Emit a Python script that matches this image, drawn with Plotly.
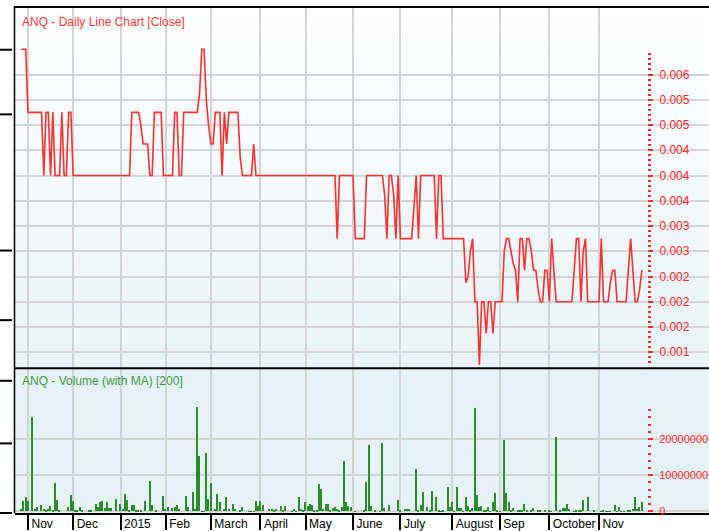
import numpy as np
import pandas as pd
import plotly.graph_objects as go

# ---------------- data ----------------
# ASX trading calendar covered by the chart (29 Oct 2014 - 27 Nov 2015)
holidays = ["2014-12-25", "2014-12-26", "2015-01-01", "2015-01-26",
            "2015-04-03", "2015-04-06", "2015-06-08"]
trading_days = pd.bdate_range("2014-10-29", "2015-11-27", freq="C", holidays=holidays)

# Daily close (one value per trading day)
close = [
    0.006, 0.006, 0.006, 0.005, 0.005, 0.005, 0.005, 0.005, 0.005, 0.005,
    0.004, 0.005, 0.005, 0.004, 0.005, 0.004, 0.004, 0.004, 0.005, 0.004,
    0.004, 0.005, 0.005, 0.004, 0.004, 0.004, 0.004, 0.004, 0.004, 0.004,
    0.004, 0.004, 0.004, 0.004, 0.004, 0.004, 0.004, 0.004, 0.004, 0.004,
    0.004, 0.004, 0.004, 0.004, 0.004, 0.004, 0.004, 0.004, 0.004, 0.005,
    0.005, 0.005, 0.005, 0.0048, 0.0045, 0.0045, 0.0045, 0.004, 0.004, 0.005,
    0.005, 0.005, 0.005, 0.004, 0.004, 0.004, 0.004, 0.004, 0.005, 0.005,
    0.004, 0.004, 0.005, 0.005, 0.005, 0.005, 0.005, 0.005, 0.005, 0.0053,
    0.006, 0.006, 0.0052, 0.0048, 0.0045, 0.0045, 0.005, 0.005, 0.005, 0.004,
    0.005, 0.0045, 0.005, 0.005, 0.005, 0.005, 0.005, 0.0043, 0.004, 0.004,
    0.004, 0.004, 0.004, 0.0045, 0.004, 0.004, 0.004, 0.004, 0.004, 0.004,
    0.004, 0.004, 0.004, 0.004, 0.004, 0.004, 0.004, 0.004, 0.004, 0.004,
    0.004, 0.004, 0.004, 0.004, 0.004, 0.004, 0.004, 0.004, 0.004, 0.004,
    0.004, 0.004, 0.004, 0.004, 0.004, 0.004, 0.004, 0.004, 0.004, 0.004,
    0.003, 0.004, 0.004, 0.004, 0.004, 0.004, 0.004, 0.004, 0.003, 0.003,
    0.003, 0.003, 0.003, 0.004, 0.004, 0.004, 0.004, 0.004, 0.004, 0.004,
    0.004, 0.0037, 0.003, 0.004, 0.004, 0.0037, 0.003, 0.004, 0.003, 0.003,
    0.003, 0.003, 0.003, 0.003, 0.0035, 0.004, 0.003, 0.004, 0.004, 0.004,
    0.004, 0.004, 0.004, 0.004, 0.003, 0.004, 0.004, 0.003, 0.003, 0.003,
    0.003, 0.003, 0.003, 0.003, 0.003, 0.003, 0.003, 0.0023, 0.0024, 0.0028,
    0.003, 0.002, 0.002, 0.001, 0.002, 0.002, 0.0015, 0.002, 0.002, 0.0015,
    0.002, 0.002, 0.002, 0.002, 0.0028, 0.003, 0.003, 0.0028, 0.0026, 0.0025,
    0.002, 0.003, 0.003, 0.0025, 0.003, 0.003, 0.0028, 0.0025, 0.0025, 0.0022,
    0.002, 0.002, 0.0025, 0.0025, 0.002, 0.003, 0.0025, 0.002, 0.002, 0.002,
    0.002, 0.002, 0.002, 0.002, 0.002, 0.0025, 0.003, 0.003, 0.002, 0.0028,
    0.003, 0.002, 0.002, 0.002, 0.002, 0.002, 0.002, 0.003, 0.002, 0.002,
    0.002, 0.0023, 0.0025, 0.0025, 0.002, 0.002, 0.002, 0.002, 0.002, 0.0025,
    0.003, 0.0025, 0.002, 0.002, 0.0022, 0.0025,
]

# Daily volume, millions of shares
volume_m = [
    0.7, 2.8, 4.1, 2.8, 0, 26.3, 0.7, 1.2, 0, 1.8,
    0.7, 0.3, 0.7, 1.5, 0.5, 8.0, 3.2, 0.3, 0, 0,
    0, 1.2, 4.6, 2.8, 0.3, 0.3, 1.2, 0.3, 0, 0,
    0.5, 0.5, 0, 2.2, 1.2, 2.5, 2.8, 0.9, 2.5, 0.9,
    0.9, 0, 3.5, 0, 2.1, 0.7, 4.9, 3.1, 0.3, 1.8,
    1.8, 0.3, 0.3, 0.3, 0, 3.0, 0, 8.5, 1.8, 0,
    0.5, 0, 0, 4.2, 0.7, 1.2, 0, 0.9, 1.2, 1.8,
    0.7, 0, 0, 4.2, 1.2, 0, 5.5, 0.7, 29.0, 15.4,
    0.1, 0.1, 16.1, 3.5, 7.9, 0, 0.7, 4.9, 2.6, 0,
    0.7, 3.9, 0.7, 0, 2.1, 0.7, 0, 0.3, 1.2, 0,
    0, 0.1, 0.1, 0.1, 2.8, 1.4, 2.8, 1.8, 0, 0,
    0.7, 0.7, 0.5, 0.7, 0, 1.5, 0.5, 1.5, 0, 0,
    0.1, 0.7, 0.1, 3.9, 0.7, 0.5, 2.5, 1.4, 2.1, 1.8,
    0.3, 0.5, 7.6, 6.2, 0.7, 2.1, 2.1, 0.5, 0.9, 1.2,
    0.7, 0.3, 1.2, 14.0, 2.5, 1.5, 1.2, 0, 0.1, 0,
    0, 0, 0.5, 8.3, 18.5, 1.5, 0, 0.3, 0, 0.1,
    19.1, 0.9, 0, 1.8, 0, 0, 0, 3.2, 0.3, 0,
    0.7, 0.7, 0.7, 0, 0, 11.7, 0.3, 1.8, 5.5, 0,
    1.2, 0.3, 5.8, 0, 3.9, 0.3, 0.1, 0.3, 0, 6.9,
    1.2, 2.5, 0.1, 6.9, 0.9, 0.9, 0.1, 3.9, 1.5, 0.3,
    0.9, 28.7, 4.6, 1.2, 1.5, 0.5, 0.5, 1.2, 0.1, 2.5,
    5.2, 0.3, 0.1, 0, 19.8, 5.2, 2.5, 0.5, 0.9, 0,
    0.5, 0.3, 0.5, 2.1, 0.3, 0, 0.3, 0.9, 0, 0.3,
    0.5, 0, 0.3, 0, 0.5, 0.1, 0, 20.5, 0, 0.5,
    0.9, 0.9, 2.1, 0.7, 0, 0.1, 0.5, 0.5, 0.5, 3.1,
    0, 3.9, 0, 0, 0.5, 0, 0, 0.1, 0.5, 0.1,
    0.1, 0.1, 0, 1.8, 0.1, 1.2, 0.1, 0.1, 0, 0.5,
    0.5, 0.7, 3.9, 0.7, 1.2, 2.6,
]

month_labels = ["Nov", "Dec", "2015", "Feb", "March", "April", "May",
                "June", "July", "August", "Sep", "October", "Nov"]

price_tick_vals = [0.0012, 0.0016, 0.0020, 0.0024, 0.0028, 0.0032,
                   0.0036, 0.0040, 0.0044, 0.0048, 0.0052, 0.0056]
price_tick_text = ["0.001", "0.002", "0.002", "0.002", "0.003", "0.003",
                   "0.004", "0.004", "0.004", "0.005", "0.005", "0.006"]

vol_tick_vals = [0, 10000000, 20000000]
vol_tick_text = ["0", "10000000", "20000000"]

# ---------------- layout helpers ----------------
W, H = 709, 531
ML, MT, MB = 15, 7, 15
PW, PH = W - ML, H - MT - MB
FONT = "Liberation Sans"
RED = "#ff2a2a"
GRID = "#d2d4d6"

def py(ypx):  # pixel row -> paper fraction
    return (H - MB - ypx) / PH

def px(xpx):  # pixel column -> paper fraction
    return (xpx - ML) / PW

idx = np.arange(len(trading_days))
periods = trading_days.to_period("M")
month_first = [int(idx[periods == per][0])
               for per in pd.period_range("2014-11", "2015-11", freq="M")]

day_px = 2.257
x0 = month_first[0] - (28 - ML) / day_px
x1 = x0 + PW / day_px

price_minor = np.round(np.arange(0.00104, 0.005925, 0.00008), 6)
vol_minor = np.arange(0, 28.5e6, 2e6)
volume = np.array(volume_m) * 1e6

fig = go.Figure()
fig.add_trace(go.Bar(x=idx, y=volume, width=0.62, marker=dict(color="#2c8c2c", line=dict(width=0)),
                     xaxis="x", yaxis="y2", hoverinfo="skip"))
fig.add_trace(go.Scatter(x=idx, y=close, mode="lines", line=dict(color="#ff3030", width=1.6),
                         xaxis="x", yaxis="y", hoverinfo="skip"))

shapes = []
# price panel gradient background
top, bot = py(7), py(370)
nb = 40
for k in range(nb):
    t = k / (nb - 1)
    r = int(round(255 - t * (255 - 231)))
    g = int(round(255 - t * (255 - 243)))
    b = int(round(255 - t * (255 - 248)))
    shapes.append(dict(type="rect", xref="paper", yref="paper", layer="below",
                       x0=0, x1=1.05, y0=top - (k + 1) * (top - bot) / nb, y1=top - k * (top - bot) / nb,
                       fillcolor=f"rgb({r},{g},{b})", line=dict(width=0)))
# volume panel background
shapes.append(dict(type="rect", xref="paper", yref="paper", layer="below",
                   x0=0, x1=1.05, y0=0, y1=py(371), fillcolor="rgb(229,242,248)", line=dict(width=0)))
# frame lines
shapes.append(dict(type="line", xref="paper", yref="paper", x0=px(14), x1=1.05, y0=py(7), y1=py(7),
                   line=dict(color="black", width=2)))
shapes.append(dict(type="line", xref="paper", yref="paper", x0=px(14), x1=1.05, y0=py(370.5), y1=py(370.5),
                   line=dict(color="black", width=2)))
shapes.append(dict(type="line", xref="paper", yref="paper", x0=px(14.5), x1=px(14.5), y0=0, y1=py(6),
                   line=dict(color="black", width=1.5)))
# stubs of the (cropped) left-hand axis
for ys in [50, 115, 252, 322, 383, 446, 516]:
    shapes.append(dict(type="line", xref="paper", yref="paper", x0=px(0), x1=px(12), y0=py(ys), y1=py(ys),
                       line=dict(color="black", width=2)))

annotations = [
    dict(text="ANQ - Daily Line Chart [Close]", xref="paper", yref="paper", x=px(20), y=py(22.5),
         xanchor="left", yanchor="middle", showarrow=False, font=dict(family=FONT, size=12, color="#ff3838")),
    dict(text="ANQ - Volume (with MA) [200]", xref="paper", yref="paper", x=px(20), y=py(383),
         xanchor="left", yanchor="middle", showarrow=False, font=dict(family=FONT, size=12, color="#3f9a3f")),
]

axis_pos = px(647)

fig.update_layout(
    width=W, height=H, margin=dict(l=ML, r=0, t=MT, b=MB, pad=0),
    paper_bgcolor="white", plot_bgcolor="rgba(0,0,0,0)",
    showlegend=False, hovermode=False, bargap=0,
    font=dict(family=FONT, size=12, color="black"),
    shapes=shapes, annotations=annotations,
    xaxis=dict(domain=[0, 1], range=[x0, x1], anchor="y2",
               tickmode="array", tickvals=month_first, ticktext=month_labels,
               ticks="outside", ticklen=15, tickwidth=1.5, tickcolor="black",
               ticklabelposition="outside right", ticklabelstandoff=-1, ticklabelshift=2,
               tickfont=dict(family=FONT, size=12, color="black"),
               showgrid=True, gridcolor=GRID, gridwidth=1.5,
               showline=True, linecolor="black", linewidth=1.5, zeroline=False),
    yaxis=dict(domain=[py(370), 1], range=[0.0009528, 0.0066693],
               side="right", anchor="free", position=axis_pos, automargin=False,
               tickmode="array", tickvals=price_tick_vals, ticktext=price_tick_text,
               ticks="outside", ticklen=5, tickwidth=1.5, tickcolor=RED, ticklabelstandoff=4,
               tickfont=dict(family=FONT, size=12, color=RED),
               showgrid=True, gridcolor=GRID, gridwidth=1.5, zeroline=False, showline=False,
               minor=dict(tickmode="array", tickvals=price_minor, ticks="outside", ticklen=3,
                          tickwidth=1.5, tickcolor=RED, showgrid=False)),
    yaxis2=dict(domain=[0, py(371)], range=[-0.468e6, 39.48e6],
                side="right", anchor="free", position=axis_pos, automargin=False,
                tickmode="array", tickvals=vol_tick_vals, ticktext=vol_tick_text,
                ticks="outside", ticklen=5, tickwidth=1.5, tickcolor=RED, ticklabelstandoff=4,
                tickfont=dict(family=FONT, size=11, color=RED),
                showgrid=True, gridcolor=GRID, gridwidth=1.5, zeroline=False, showline=False,
                minor=dict(tickmode="array", tickvals=vol_minor, ticks="outside", ticklen=3,
                           tickwidth=1.5, tickcolor=RED, showgrid=False)),
)

fig.write_html("out.html", config={"displayModeBar": False},
               post_script="document.body.style.margin='0px';document.body.style.padding='0px';")
